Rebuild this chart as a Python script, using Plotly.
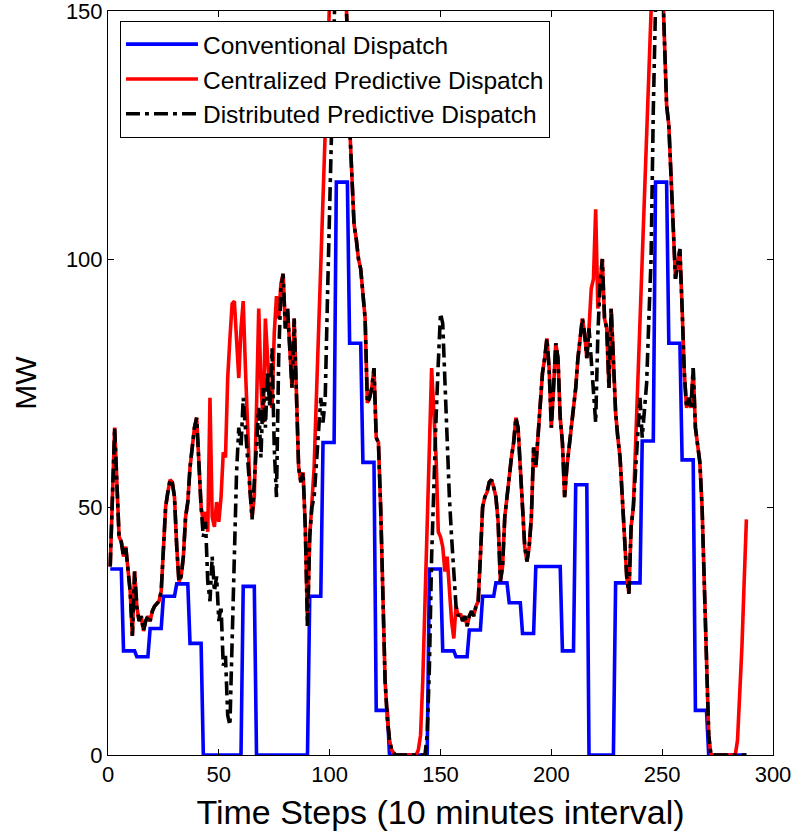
import numpy as np
import plotly.graph_objects as go

# Hourly set-points of the conventional dispatch (held for six 10-minute steps)
conv_hourly = [37.5, 21, 19.8, 25.5, 32, 34.5, 22.5, 0, 0, 0, 34, 0,
               0, 0, 0, 32, 63, 115.5, 83, 59, 9, 0, 0, 0,
               37.5, 21, 19.8, 25.2, 32, 34.7, 30.7, 24.5, 38, 38, 21, 54.5,
               0, 0, 34.7, 34.7, 63.3, 115.5, 83, 59.5, 9, 0, 0, 0]

# Centralized predictive dispatch, one value per 10-minute step (steps 1..288)
cen_mw = [
    38, 55, 66, 55, 44, 43, 40, 42, 37, 33, 24, 37, 30, 27, 28, 25, 27, 28, 27, 29,
    30, 30.5, 31, 33, 42, 50, 53, 55.5, 55, 52, 42, 35, 36, 40, 48, 51, 58, 63, 66, 68,
    58, 50, 47, 49, 45, 72, 48, 46, 51, 47, 52, 61, 60, 76, 84, 91, 91.5, 85, 76, 86,
    91.5, 78, 64, 54, 48, 52, 70, 90, 75, 67, 88, 80, 72, 70, 85, 92.5, 88, 95, 97, 86,
    90, 82, 74, 88, 70, 58, 55, 57, 46, 26, 44, 50, 58, 72, 86, 100, 115, 129, 143, 157,
    166, 172, 175, 172, 168, 163, 157, 145, 127, 117, 107, 104, 100, 98, 92, 88, 71, 72, 74, 78,
    64, 63, 50, 30, 15, 7.5, 3, 1, 0.3, 0, 0, 0, 0, 0, 0, 0, 0, 0, 0, 1,
    4, 15, 31, 45, 62, 78, 69, 60, 45, 44, 42, 37, 40, 33, 27, 23.5, 30, 28, 28.5, 27,
    28, 26, 28, 29, 28, 30, 31, 40, 50, 52, 53, 55, 55.5, 54, 52, 47, 35, 38, 48, 52,
    57, 60, 63, 68, 66, 58, 48, 42, 39, 42, 48, 62, 58, 65, 72, 77, 80, 84, 78, 66,
    74, 83, 80, 68, 63, 52, 58, 62, 66, 70, 74, 80, 84, 88, 85, 80, 86, 94, 96, 110,
    90, 95, 100, 88, 86, 74, 90, 80, 69, 64, 60, 52, 45, 36, 32.5, 46, 50, 63, 76, 89,
    102, 115, 128, 141, 154, 166, 175, 178, 172, 158, 143, 131, 127, 117, 106, 96, 99, 102, 90, 77,
    70, 72, 70, 78, 66, 62, 59, 50, 35, 18, 4, 0, 0, 0, 0, 0, 0, 0, 0, 0,
    0, 0, 0, 3, 12, 22, 35, 47.5,
]

# Distributed predictive dispatch, one value per 10-minute step (steps 1..288)
dist_mw = [
    38, 55, 66, 55, 44, 43, 40, 42, 37, 33, 24, 37, 30, 27, 28, 25, 27, 28, 27, 29,
    30, 30.5, 31, 33, 42, 50, 53, 55.5, 55, 52, 42, 35, 36, 40, 48, 51, 58, 63, 66, 68,
    58, 50, 44, 47, 35, 31, 40, 33, 36, 27, 30, 18, 20, 8, 6, 24, 45, 57, 66, 62,
    72, 66, 58, 52, 47.5, 55, 62, 70, 60, 74, 66, 77, 70, 82, 62, 52, 80, 94, 97, 86,
    90, 82, 74, 88, 70, 58, 55, 57, 46, 26, 44, 50, 52, 58, 66, 72, 67, 72, 92, 113,
    134, 155, 165, 170, 168, 163, 157, 145, 127, 117, 107, 104, 100, 98, 92, 88, 71, 72, 74, 78,
    64, 63, 50, 30, 15, 7.5, 3, 1, 0.3, 0, 0, 0, 0, 0, 0, 0, 0, 0, 0, 0,
    0, 0, 0, 4, 18, 40, 57, 68, 79, 89, 87, 75, 62, 52, 44, 38, 30, 28, 28.5, 27,
    28, 26, 28, 29, 28, 30, 31, 40, 50, 52, 53, 55, 55.5, 54, 52, 47, 35, 38, 48, 52,
    57, 60, 63, 68, 66, 58, 48, 42, 39, 42, 48, 62, 58, 65, 72, 77, 80, 84, 78, 66,
    74, 83, 80, 68, 63, 52, 58, 62, 66, 70, 74, 80, 84, 88, 85, 80, 86, 80, 72, 67,
    85, 95, 100, 88, 86, 74, 90, 80, 69, 64, 60, 52, 45, 36, 32.5, 46, 50, 58, 66, 72,
    64, 70, 75, 88, 100, 130, 158, 172, 172, 158, 143, 131, 127, 117, 106, 96, 99, 102, 90, 77,
    70, 72, 70, 78, 66, 62, 59, 50, 35, 18, 4, 0, 0, 0, 0, 0, 0, 0, 0, 0,
    0, 0, 0, 0, 0, 0, 0, 0,
]

x_ticks = [0, 50, 100, 150, 200, 250, 300]
y_ticks = [0, 50, 100, 150]

steps = np.arange(1, len(cen_mw) + 1)
conv_mw = np.repeat(conv_hourly, 6)

FONT = "Arial, Liberation Sans, sans-serif"
LW = 3.6

fig = go.Figure()
fig.add_trace(go.Scatter(x=steps, y=conv_mw, mode="lines",
                         name="Conventional Dispatch",
                         line=dict(color="#0000ff", width=LW)))
fig.add_trace(go.Scatter(x=steps, y=cen_mw, mode="lines",
                         name="Centralized Predictive Dispatch",
                         line=dict(color="#ff0000", width=LW)))
fig.add_trace(go.Scatter(x=steps, y=dist_mw, mode="lines",
                         name="Distributed Predictive Dispatch",
                         line=dict(color="#000000", width=LW, dash="14px,5px,4px,5px")))

axis_common = dict(
    showgrid=False, zeroline=False,
    showline=True, linecolor="black", linewidth=1, mirror="ticks",
    ticks="inside", ticklen=6, tickcolor="black", tickwidth=1,
    tickfont=dict(family=FONT, size=22, color="black"),
    ticklabeloverflow="allow", automargin=False,
)

fig.update_xaxes(range=[0, 300], tickvals=x_ticks,
                 title=dict(text="Time Steps (10 minutes interval)",
                            font=dict(family=FONT, size=34, color="black"),
                            standoff=14),
                 **axis_common)
fig.update_yaxes(range=[0, 150], tickvals=y_ticks,
                 title=dict(text="MW", font=dict(family=FONT, size=30, color="black"),
                            standoff=20),
                 **axis_common)

fig.update_layout(
    width=800, height=831,
    margin=dict(l=108, r=27, t=11, b=76, autoexpand=False),
    paper_bgcolor="white", plot_bgcolor="white",
    showlegend=True,
    legend=dict(x=0.018, y=0.987, xanchor="left", yanchor="top",
                bgcolor="white", bordercolor="black", borderwidth=1,
                font=dict(family=FONT, size=24.5, color="black"),
                itemwidth=72, tracegroupgap=0),
)

fig.write_html("out.html")
